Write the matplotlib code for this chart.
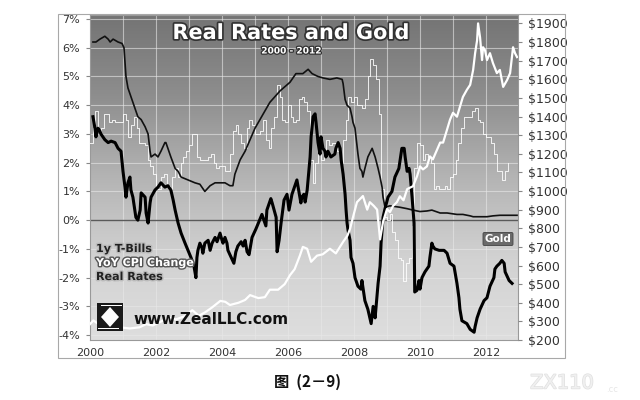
import numpy as np
import matplotlib
matplotlib.use('Agg')
import matplotlib.pyplot as plt
import matplotlib.patheffects as pe
from matplotlib.colors import LinearSegmentedColormap
from matplotlib.patches import Rectangle, Polygon

# 1y T-Bills (%)
tb_x = [2000.09, 2000.18, 2000.30, 2000.45, 2000.55, 2000.61, 2000.70, 2000.85, 2000.97, 2001.03,
        2001.09, 2001.15, 2001.24, 2001.36, 2001.45, 2001.55, 2001.67, 2001.76, 2001.82, 2001.85,
        2001.97, 2002.06, 2002.15, 2002.27, 2002.30, 2002.36, 2002.45, 2002.58, 2002.67, 2002.76,
        2002.97, 2003.18, 2003.33, 2003.48, 2003.64, 2003.79, 2004.09, 2004.24, 2004.33, 2004.39,
        2004.55, 2004.70, 2004.85, 2005.00, 2005.15, 2005.30, 2005.45, 2005.76, 2006.06, 2006.24,
        2006.45, 2006.61, 2006.73, 2006.91, 2007.06, 2007.27, 2007.48, 2007.64, 2007.67, 2007.73,
        2007.79, 2007.88, 2007.94, 2007.97, 2008.03, 2008.12, 2008.18, 2008.24, 2008.27, 2008.33,
        2008.42, 2008.55, 2008.64, 2008.73, 2008.79, 2008.85, 2008.88, 2008.94, 2009.09, 2009.39,
        2009.61, 2009.79, 2010.00, 2010.21, 2010.36, 2010.61, 2010.82, 2011.12, 2011.30, 2011.52,
        2011.61, 2012.03, 2012.21, 2012.42, 2012.94]
tb_y = [6.2, 6.2, 6.3, 6.4, 6.3, 6.2, 6.3, 6.2, 6.15, 6.0,
        5.0, 4.6, 4.3, 3.9, 3.6, 3.5, 3.25, 3.0, 2.4, 2.2,
        2.3, 2.2, 2.4, 2.7, 2.7, 2.5, 2.2, 1.8, 1.7, 1.5,
        1.4, 1.3, 1.25, 1.0, 1.2, 1.3, 1.3, 1.2, 1.2, 1.6,
        2.1, 2.4, 2.8, 3.2, 3.5, 3.8, 4.1, 4.5, 4.8, 5.1,
        5.1, 5.25, 5.1, 5.0, 4.95, 4.9, 4.95, 4.9, 4.75, 4.2,
        4.0, 3.9, 3.6, 3.4, 3.2, 2.3, 1.8, 1.7, 1.5, 1.8,
        2.2, 2.5, 2.2, 1.8, 1.5, 1.15, 0.8, 0.45, 0.5, 0.45,
        0.4, 0.35, 0.3, 0.32, 0.35, 0.25, 0.25, 0.2, 0.2, 0.15,
        0.12, 0.12, 0.15, 0.17, 0.17]

# YoY CPI change (%), monthly from Jan 2000
cpi_y = [2.7, 3.2, 3.8, 3.1, 3.2, 3.7, 3.7, 3.4, 3.5, 3.4, 3.4, 3.4,
         3.7, 3.5, 2.9, 3.3, 3.6, 3.2, 2.7, 2.7, 2.6, 2.1, 1.9, 1.6,
         1.1, 1.1, 1.5, 1.6, 1.2, 1.1, 1.5, 1.8, 1.5, 2.0, 2.2, 2.4,
         2.6, 3.0, 3.0, 2.2, 2.1, 2.1, 2.1, 2.2, 2.3, 2.0, 1.8, 1.9,
         1.9, 1.7, 1.7, 2.3, 3.1, 3.3, 3.0, 2.7, 2.5, 3.2, 3.5, 3.3,
         3.0, 3.0, 3.1, 3.5, 2.8, 2.5, 3.2, 3.6, 4.7, 4.3, 3.5, 3.4,
         4.0, 3.6, 3.4, 3.5, 4.2, 4.3, 4.1, 3.8, 2.1, 1.3, 2.0, 2.5,
         2.1, 2.4, 2.8, 2.6, 2.7, 2.7, 2.4, 2.0, 2.8, 3.5, 4.3, 4.1,
         4.3, 4.0, 4.0, 3.9, 4.2, 5.0, 5.6, 5.4, 4.9, 3.7, 1.1, 0.1,
         0.0, 0.2, -0.4, -0.7, -1.3, -1.4, -2.1, -1.5, -1.3, -0.2, 1.8, 2.7,
         2.6, 2.1, 2.3, 2.2, 2.0, 1.1, 1.2, 1.1, 1.1, 1.2, 1.1, 1.5,
         1.6, 2.1, 2.7, 3.2, 3.6, 3.6, 3.6, 3.8, 3.9, 3.5, 3.4, 3.0,
         2.9, 2.9, 2.7, 2.3, 1.7, 1.7, 1.4, 1.7, 2.0]
cpi_x = 2000 + np.arange(len(cpi_y)) / 12

# Real rates (%)
rr_x = [2000.09, 2000.15, 2000.18, 2000.24, 2000.30, 2000.33, 2000.45, 2000.55, 2000.64, 2000.76,
        2000.85, 2000.94, 2001.00, 2001.06, 2001.09, 2001.15, 2001.21, 2001.24, 2001.30, 2001.36,
        2001.39, 2001.45, 2001.52, 2001.55, 2001.67, 2001.70, 2001.76, 2001.82, 2001.85, 2001.97,
        2002.06, 2002.15, 2002.27, 2002.36, 2002.45, 2002.52, 2002.58, 2002.67, 2002.76, 2002.88,
        2002.97, 2003.06, 2003.15, 2003.21, 2003.24, 2003.27, 2003.33, 2003.39, 2003.42, 2003.48,
        2003.58, 2003.64, 2003.70, 2003.79, 2003.85, 2003.94, 2004.00, 2004.03, 2004.09, 2004.15,
        2004.18, 2004.30, 2004.36, 2004.42, 2004.48, 2004.58, 2004.64, 2004.70, 2004.76, 2004.82,
        2004.91, 2005.03, 2005.12, 2005.21, 2005.33, 2005.36, 2005.48, 2005.52, 2005.58, 2005.64,
        2005.67, 2005.73, 2005.79, 2005.88, 2005.97, 2006.03, 2006.12, 2006.24, 2006.27, 2006.39,
        2006.42, 2006.48, 2006.52, 2006.58, 2006.67, 2006.70, 2006.76, 2006.82, 2006.85, 2006.91,
        2006.97, 2007.00, 2007.06, 2007.12, 2007.15, 2007.21, 2007.30, 2007.42, 2007.45, 2007.52,
        2007.58, 2007.61, 2007.67, 2007.73, 2007.76, 2007.79, 2007.82, 2007.88, 2007.91, 2007.97,
        2008.03, 2008.06, 2008.12, 2008.21, 2008.24, 2008.33, 2008.42, 2008.48, 2008.52, 2008.58,
        2008.64, 2008.67, 2008.73, 2008.79, 2008.82, 2008.88, 2008.94, 2009.03, 2009.15, 2009.24,
        2009.36, 2009.45, 2009.52, 2009.55, 2009.61, 2009.67, 2009.70, 2009.76, 2009.82, 2009.84,
        2009.91, 2009.97, 2010.00, 2010.06, 2010.15, 2010.27, 2010.30, 2010.36, 2010.39, 2010.45,
        2010.58, 2010.73, 2010.82, 2010.91, 2011.03, 2011.06, 2011.12, 2011.18, 2011.21, 2011.27,
        2011.42, 2011.52, 2011.64, 2011.67, 2011.73, 2011.82, 2011.94, 2012.03, 2012.12, 2012.24,
        2012.27, 2012.33, 2012.42, 2012.48, 2012.55, 2012.58, 2012.70, 2012.79]
rr_y = [3.6, 3.2, 2.9, 3.2, 3.1, 3.0, 2.8, 2.7, 2.75, 2.7,
        2.5, 2.4, 1.7, 1.15, 0.8, 1.3, 1.5, 1.05, 0.8, 0.35,
        0.1, 0.0, 0.35, 0.95, 0.8, 0.25, -0.1, 0.6, 0.8, 1.05,
        1.15, 1.3, 1.15, 1.2, 1.05, 0.7, 0.35, -0.1, -0.45, -0.8,
        -1.05, -1.3, -1.6, -2.0, -1.3, -1.05, -0.8, -0.95, -1.15, -0.8,
        -0.7, -1.05, -0.8, -0.6, -0.75, -0.45, -0.7, -0.8, -0.6, -0.8,
        -1.05, -1.35, -1.5, -1.1, -0.9, -0.75, -0.9, -0.7, -1.1, -1.2,
        -0.6, -0.3, -0.05, 0.2, -0.2, 0.35, 0.75, 0.6, 0.35, 0.1,
        -1.1, -0.7, -0.1, 0.7, 0.9, 0.35, 0.9, 1.3, 1.4, 0.6,
        0.8, 0.9, 0.63, 1.04, 2.2, 2.9, 3.6, 3.7, 3.4, 2.7,
        2.3, 2.9, 2.5, 2.4, 2.2, 2.4, 2.2, 2.3, 2.5, 2.7,
        2.5, 2.1, 1.6, 0.9, 0.35, -0.1, -0.35, -0.7, -1.3, -1.5,
        -2.0, -2.1, -2.3, -2.4, -2.1, -2.8, -3.1, -3.4, -3.6, -3.0,
        -3.4, -3.0, -2.2, -1.6, -0.8, 0.1, 0.4, 0.8, 1.0, 1.5,
        1.8, 2.5, 2.5, 2.2, 1.7, 1.8, 1.6, 0.8, -0.1, -2.5,
        -2.44, -2.1, -2.4, -2.0, -1.8, -1.6, -1.3, -0.8, -0.9, -1.0,
        -1.05, -1.05, -1.15, -1.5, -1.6, -1.8, -2.2, -2.7, -3.1, -3.5,
        -3.6, -3.8, -3.9, -3.7, -3.4, -3.1, -2.8, -2.7, -2.3, -2.0,
        -1.7, -1.6, -1.5, -1.4, -1.5, -1.8, -2.1, -2.2]

# Gold ($/oz)
gold_x = [2000.00, 2000.10, 2000.30, 2000.60, 2000.90, 2001.20, 2001.50, 2001.70, 2001.90, 2002.10,
          2002.40, 2002.60, 2002.90, 2003.10, 2003.30, 2003.50, 2003.70, 2003.95, 2004.10, 2004.24,
          2004.50, 2004.70, 2004.85, 2005.10, 2005.30, 2005.45, 2005.70, 2005.90, 2006.06, 2006.20,
          2006.36, 2006.45, 2006.58, 2006.70, 2006.88, 2007.05, 2007.27, 2007.45, 2007.67, 2007.80,
          2007.88, 2008.00, 2008.09, 2008.20, 2008.27, 2008.40, 2008.48, 2008.60, 2008.70, 2008.79,
          2008.88, 2009.00, 2009.09, 2009.18, 2009.30, 2009.39, 2009.50, 2009.61, 2009.79, 2009.91,
          2010.00, 2010.09, 2010.21, 2010.30, 2010.39, 2010.52, 2010.61, 2010.70, 2010.82, 2010.91,
          2011.00, 2011.12, 2011.21, 2011.30, 2011.42, 2011.52, 2011.61, 2011.67, 2011.73, 2011.76,
          2011.82, 2011.88, 2011.91, 2011.97, 2012.03, 2012.12, 2012.21, 2012.33, 2012.42, 2012.52,
          2012.64, 2012.73, 2012.82, 2012.88, 2012.94]
gold_y = [285, 305, 280, 275, 268, 262, 268, 285, 278, 295,
          320, 310, 330, 360, 330, 350, 375, 410, 405, 388,
          400, 415, 441, 425, 430, 470, 470, 500, 548, 580,
          653, 700, 690, 620, 653, 660, 690, 665, 727, 760,
          797, 880, 940, 960, 973, 900, 940, 920, 900, 740,
          834, 903, 887, 919, 940, 972, 950, 1010, 1026, 1079,
          1132, 1116, 1132, 1186, 1170, 1223, 1260, 1260, 1330, 1383,
          1420, 1399, 1452, 1505, 1543, 1570, 1650, 1740, 1809, 1900,
          1825, 1703, 1772, 1756, 1703, 1740, 1687, 1633, 1650, 1559,
          1596, 1633, 1772, 1740, 1719]

pct_ticks = list(range(-4, 8))
pct_labels = [f'{v}%' for v in pct_ticks]
gold_ticks = list(range(200, 2000, 100))
gold_labels = [f'${v}' for v in gold_ticks]
year_ticks = list(range(2000, 2013, 2))

W, H = 640, 400
def fx(x):
    return x / W
def fy(y):
    return 1 - y / H

fig = plt.figure(figsize=(6.4, 4), dpi=100)
fig.patch.set_facecolor('white')

# outer frame
fig.patches.append(Rectangle((fx(58), fy(358)), fx(565) - fx(58), fy(14) - fy(358),
                             transform=fig.transFigure, fill=False, ec='#a8a8a8', lw=0.8))

ax = fig.add_axes([fx(90), fy(340), fx(518) - fx(90), fy(15) - fy(340)])
x0, x1 = 2000, 2000 + 428 / 33
y0, y1 = -4.17, 7.14
ax.set_xlim(x0, x1)
ax.set_ylim(y0, y1)

# gray gradient background
grad = np.linspace(0, 1, 256).reshape(-1, 1)
cmap = LinearSegmentedColormap.from_list('bg', ['#747474', '#8e8e8e', '#b4b4b4', '#d2d2d2', '#dedede'])
ax.imshow(grad, cmap=cmap, extent=[x0, x1, y0, y1], aspect='auto', origin='upper', zorder=0)

for yr in range(2001, 2013):
    ax.axvline(yr, color='#e8e8e8', lw=0.8, alpha=0.6, zorder=1)
for v in pct_ticks:
    ax.axhline(v, color='#e8e8e8', lw=0.8, alpha=0.6, zorder=1)
ax.axhline(0, color='#5a5a5a', lw=1.0, zorder=2)

ax.step(cpi_x, cpi_y, where='post', color='white', lw=0.7, alpha=0.85, zorder=3)
ax.plot(tb_x, tb_y, color='#111111', lw=1.2, zorder=4)
ax.plot(rr_x, rr_y, color='black', lw=2.2, zorder=5)

ax.set_yticks(pct_ticks)
ax.set_yticklabels(pct_labels, fontsize=8, color='#333333')
ax.set_xticks(year_ticks)
ax.set_xticklabels([str(y) for y in year_ticks], fontsize=8, color='#333333')
ax.tick_params(axis='x', length=0, pad=6)
ax.tick_params(axis='y', length=3, color='#888888', pad=4)
for s in ax.spines.values():
    s.set_color('#999999')
    s.set_linewidth(0.8)

ax2 = ax.twinx()
ax2.set_ylim(211, 1945)
ax2.plot(gold_x, gold_y, color='white', lw=1.6, zorder=6)
ax2.set_yticks(gold_ticks)
ax2.set_yticklabels(gold_labels, fontsize=9, color='#333333')
ax2.tick_params(axis='y', length=3, color='#888888', pad=4)
for s in ax2.spines.values():
    s.set_visible(False)

outline = [pe.withStroke(linewidth=2.5, foreground='#333333')]
fig.text(fx(291), fy(33), 'Real Rates and Gold', ha='center', va='center',
         fontsize=15, fontweight='bold', color='white', path_effects=outline)
fig.text(fx(291), fy(51), '2000 - 2012', ha='center', va='center',
         fontsize=6.5, fontweight='bold', color='white',
         path_effects=[pe.withStroke(linewidth=1.8, foreground='#333333')])

# series labels
fig.text(fx(96), fy(249), '1y T-Bills', ha='left', va='center', fontsize=8,
         fontweight='bold', color='#222222',
         path_effects=[pe.withStroke(linewidth=2, foreground='#bbbbbb')])
fig.text(fx(96), fy(263), 'YoY CPI Change', ha='left', va='center', fontsize=8,
         fontweight='bold', color='white',
         path_effects=[pe.withStroke(linewidth=2, foreground='#555555')])
fig.text(fx(96), fy(277), 'Real Rates', ha='left', va='center', fontsize=8,
         fontweight='bold', color='#222222',
         path_effects=[pe.withStroke(linewidth=2, foreground='#bbbbbb')])
fig.text(fx(498), fy(239), 'Gold', ha='center', va='center', fontsize=7.5,
         fontweight='bold', color='white',
         bbox=dict(boxstyle='round,pad=0.15', fc='#6a6a6a', ec='#444444', lw=0.6))

# logo
fig.patches.append(Rectangle((fx(97), fy(331)), fx(123) - fx(97), fy(303) - fy(331),
                             transform=fig.transFigure, fc='#1a1a1a', ec='none'))
fig.patches.append(Polygon([(fx(110), fy(307)), (fx(119), fy(317)), (fx(110), fy(327)), (fx(101), fy(317))],
                           closed=True, transform=fig.transFigure, fc='white', ec='none'))
fig.patches.append(Rectangle((fx(101), fy(306)), fx(122) - fx(101), fy(305) - fy(306),
                             transform=fig.transFigure, fc='white', ec='none'))
fig.patches.append(Rectangle((fx(98), fy(329)), fx(119) - fx(98), fy(328) - fy(329),
                             transform=fig.transFigure, fc='white', ec='none'))
fig.text(fx(133), fy(319), 'www.ZealLLC.com', ha='left', va='center', fontsize=11,
         fontweight='bold', color='#111111')

fig.text(fx(307), fy(382), '图  (2－9)', ha='center', va='center', fontsize=11,
         fontweight='bold', color='#111111', family=['Noto Sans CJK SC', 'DejaVu Sans'])
fig.text(fx(562), fy(383), 'ZX110', ha='center', va='center', fontsize=14,
         color='#f0f0f0', path_effects=[pe.withStroke(linewidth=1, foreground='#e0e0e0')])
fig.text(fx(612), fy(389), '.cc', ha='center', va='center', fontsize=6, color='#e6e6e6')

fig.savefig('out.png', dpi=100)
